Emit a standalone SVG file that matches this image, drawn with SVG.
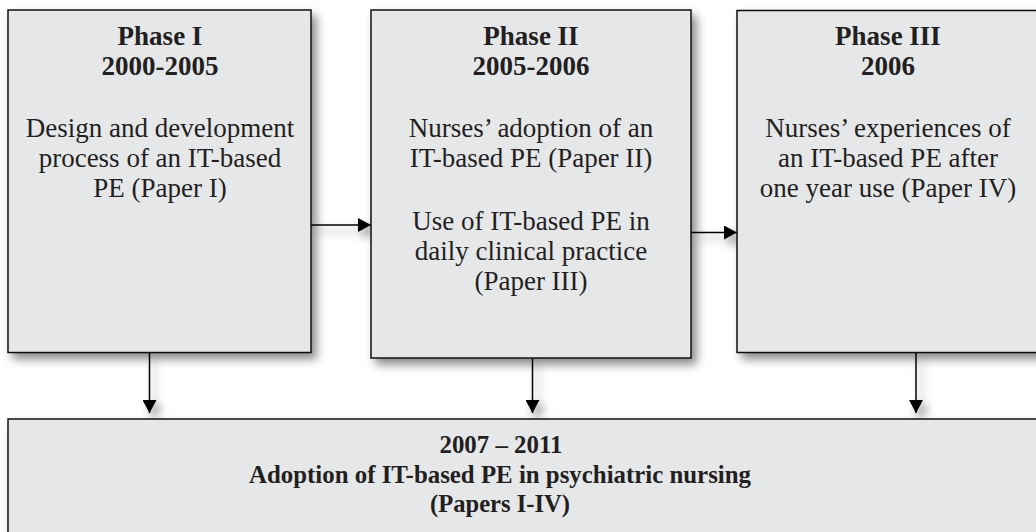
<svg xmlns="http://www.w3.org/2000/svg" width="1036" height="532" viewBox="0 0 1036 532">
<defs>
<filter id="sh" x="-10%" y="-10%" width="130%" height="130%">
<feDropShadow dx="5" dy="6" stdDeviation="5" flood-color="#000" flood-opacity="0.45"/>
</filter>
<marker id="ah" viewBox="0 0 13 14" refX="13" refY="7" markerWidth="13" markerHeight="14" markerUnits="userSpaceOnUse" orient="auto">
<path d="M0,0 L13,7 L0,14 Z" fill="#000"/>
</marker>
<style>
.box{fill:#e6e7e9;stroke:#111;stroke-width:1.5;filter:url(#sh)}
.t{font-family:"Liberation Serif","Times New Roman",serif;font-size:27px;fill:#231f20;text-anchor:middle}
.b{font-weight:bold}
.s{font-size:26px}
.c{stroke:#000;stroke-width:1.5;fill:none;marker-end:url(#ah)}
</style>
</defs>
<rect width="1036" height="532" fill="#fff"/>
<g id="connectors" filter="url(#sh)">
<line class="c" x1="311" y1="225" x2="371" y2="225"/>
<line class="c" x1="691" y1="232.5" x2="737" y2="232.5"/>
<line class="c" x1="149.5" y1="352.5" x2="149.5" y2="413"/>
<line class="c" x1="532.5" y1="358" x2="532.5" y2="413"/>
<line class="c" x1="916" y1="352.5" x2="916" y2="413"/>
</g>
<g id="phase1">
<rect class="box" x="8" y="10" width="303" height="342.5"/>
<text class="t b" x="160" y="45">Phase I</text>
<text class="t b" x="160" y="75">2000-2005</text>
<text class="t" x="160" y="137">Design and development</text>
<text class="t" x="160" y="167">process of an IT-based</text>
<text class="t" x="160" y="197">PE (Paper I)</text>
</g>
<g id="phase2">
<rect class="box" x="371" y="10" width="320" height="348"/>
<text class="t b" x="531" y="45">Phase II</text>
<text class="t b" x="531" y="75">2005-2006</text>
<text class="t" x="531" y="137">Nurses’ adoption of an</text>
<text class="t" x="531" y="167">IT-based PE (Paper II)</text>
<text class="t" x="531" y="230">Use of IT-based PE in</text>
<text class="t" x="531" y="260">daily clinical practice</text>
<text class="t" x="531" y="290">(Paper III)</text>
</g>
<g id="phase3">
<rect class="box" x="737" y="10.5" width="320" height="342"/>
<text class="t b" x="888" y="45">Phase III</text>
<text class="t b" x="888" y="75">2006</text>
<text class="t" x="888" y="137">Nurses’ experiences of</text>
<text class="t" x="888" y="167">an IT-based PE after</text>
<text class="t" x="888" y="197">one year use (Paper IV)</text>
</g>
<g id="summary">
<rect class="box" x="8" y="419" width="1050" height="130"/>
<text class="t b s" x="501" y="453" textLength="123" lengthAdjust="spacingAndGlyphs">2007 – 2011</text>
<text class="t b s" x="500" y="483" textLength="502" lengthAdjust="spacingAndGlyphs">Adoption of IT-based PE in psychiatric nursing</text>
<text class="t b s" x="500" y="512" textLength="140" lengthAdjust="spacingAndGlyphs">(Papers I-IV)</text>
</g>
</svg>
